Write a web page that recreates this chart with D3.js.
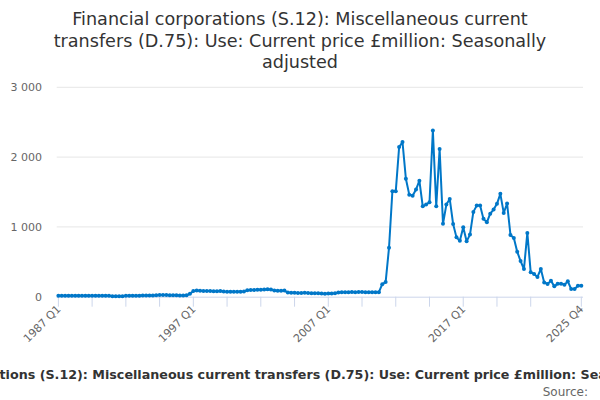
<!DOCTYPE html>
<html><head><meta charset="utf-8">
<script src="https://cdn.jsdelivr.net/npm/d3@7"></script>
<style>body{margin:0;background:#fff}svg{display:block}</style>
</head><body>
<svg id="c" width="600" height="400"></svg>
<script>
const titleLines = ["Financial corporations (S.12): Miscellaneous current", "transfers (D.75): Use: Current price £million: Seasonally", "adjusted"];
const subtitle = "Financial corporations (S.12): Miscellaneous current transfers (D.75): Use: Current price £million: Seasonally adjusted";
const sourceText = "Source:";
const startYear = 1987;
const values = [
 12,12,13,12,12,13,13,12,12,13,13,14,13,12,13,12,
 6,5,6,7,
 14,14,15,15,15,16,16,17,18,
 22,24,24,23,20,19,19,18,18,20,
 42,80,
 88,85,82,80,80,78,78,80,
 75,72,70,70,72,70,75,
 92,95,95,98,100,102,105,103,
 88,86,85,88,
 60,
 55,55,53,52,55,53,50,50,48,
 45,44,45,46,50,
 60,62,65,65,66,65,67,66,65,
 64,63,65,65,
 180,210,700,1510,1510,2145,2215,1690,1462,1447,1535,1662,1295,1320,1353,2380,1295,2115,1045,1320,1400,
 1042,850,800,995,793,890,1215,1305,1305,1115,1066,1190,1248,1330,1474,1200,1335,885,842,645,510,397,914,
 349,326,283,397,205,182,230,148,187,187,172,220,110,110,158,158
];
const quarters = values.map((v,i)=> (startYear + Math.floor(i/4)) + " Q" + (i%4+1));
const yTicks = [0,1000,2000,3000];
const labelIdx = [0,40,80,120,155];
const tickIdx = d3.range(0,150,10).concat([155]);

const svg = d3.select("#c");
const L = 56.7, R = 583, T = 87.3, B = 296.7;
const x = d3.scaleLinear().domain([-0.5, values.length-0.5]).range([L, R]);
const y = d3.scaleLinear().domain([0,3000]).range([B, T]);
const color = "#0077c8";

// title
svg.append("text").attr("x",300).attr("y",25).attr("text-anchor","middle")
  .style("font-family","DejaVu Sans").style("font-size","17.6px").style("fill","#333")
  .selectAll("tspan").data(titleLines).join("tspan")
  .attr("x",300).attr("dy",(d,i)=> i? 21.5: 0).text(d=>d);

// gridlines
svg.append("g").selectAll("line").data(yTicks.filter(d=>d>0)).join("line")
  .attr("x1",L).attr("x2",R).attr("y1",d=>y(d)).attr("y2",d=>y(d))
  .attr("stroke","#e6e6e6").attr("stroke-width",1);

// y labels
svg.append("g").selectAll("text").data(yTicks).join("text")
  .attr("x",42).attr("y",d=>y(d)+4).attr("text-anchor","end")
  .style("font-family","DejaVu Sans").style("font-size","11px").style("fill","#666")
  .text(d=> d3.format(",")(d).replace(/,/g," "));

// x axis
svg.append("line").attr("x1",L).attr("x2",R).attr("y1",B+0.5).attr("y2",B+0.5).attr("stroke","#ccd6eb");
svg.append("g").selectAll("line").data(tickIdx).join("line")
  .attr("x1",d=>x(d)).attr("x2",d=>x(d)).attr("y1",B).attr("y2",B+10)
  .attr("stroke","#ccd6eb");
svg.append("g").selectAll("text").data(labelIdx).join("text")
  .attr("transform",d=>`translate(${x(d)+3},${B+13}) rotate(-45)`)
  .attr("text-anchor","end")
  .style("font-family","DejaVu Sans").style("font-size","11px").style("fill","#666")
  .text(d=>quarters[d]);

// line
const line = d3.line().x((d,i)=>x(i)).y(d=>y(d));
svg.append("path").datum(values).attr("d",line).attr("fill","none")
  .attr("stroke",color).attr("stroke-width",2).attr("stroke-linejoin","round");
svg.append("g").selectAll("circle").data(values).join("circle")
  .attr("cx",(d,i)=>x(i)).attr("cy",d=>y(d)).attr("r",2).attr("fill",color);

// bottom texts
svg.append("text").attr("x",300).attr("y",379).attr("text-anchor","middle")
  .style("font-family","DejaVu Sans").style("font-size","12.7px").style("font-weight","bold").style("fill","#333")
  .text(subtitle);
svg.append("text").attr("x",588).attr("y",396).attr("text-anchor","end")
  .style("font-family","DejaVu Sans").style("font-size","12px").style("fill","#666")
  .text(sourceText);
</script>
</body></html>
